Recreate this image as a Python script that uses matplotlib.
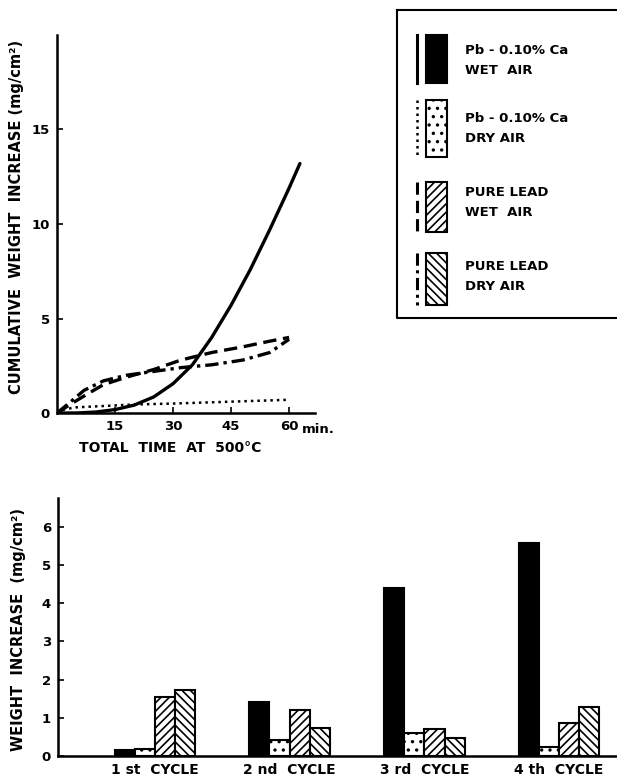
import matplotlib
matplotlib.use("Agg")
import matplotlib.pyplot as plt
from matplotlib.patches import Rectangle
import numpy as np

# ---------------- data ----------------
# Top chart: cumulative weight increase vs time (min)
t_ca_wet = [0, 5, 10, 15, 20, 25, 30, 35, 40, 45, 50, 55, 60, 62.8]
w_ca_wet = [0, 0.0, 0.05, 0.18, 0.42, 0.85, 1.55, 2.55, 4.0, 5.7, 7.6, 9.7, 11.9, 13.2]

t_ca_dry = [0, 2, 5, 10, 20, 30, 45, 60]
w_ca_dry = [0, 0.2, 0.3, 0.35, 0.45, 0.5, 0.6, 0.7]

t_pb_wet = [0, 3, 7, 12, 18, 25, 32, 40, 48, 55, 60]
w_pb_wet = [0, 0.4, 0.9, 1.5, 1.9, 2.3, 2.8, 3.2, 3.5, 3.8, 4.0]

t_pb_dry = [0, 3, 7, 12, 18, 25, 32, 40, 48, 55, 60]
w_pb_dry = [0, 0.5, 1.2, 1.7, 2.0, 2.2, 2.4, 2.55, 2.8, 3.2, 3.9]

top_xticks = [15, 30, 45, 60]
top_yticks = [0, 5, 10, 15]

# Bottom chart: weight increase per cycle
cycles = ["1 st  CYCLE", "2 nd  CYCLE", "3 rd  CYCLE", "4 th  CYCLE"]
bar_ca_wet = [0.17, 1.4, 4.4, 5.58]
bar_ca_dry = [0.18, 0.42, 0.61, 0.24]
bar_pb_wet = [1.55, 1.2, 0.7, 0.86]
bar_pb_dry = [1.73, 0.73, 0.46, 1.29]
bot_yticks = [0, 1, 2, 3, 4, 5, 6]

legend_line1 = ["Pb - 0.10% Ca", "Pb - 0.10% Ca", "PURE LEAD", "PURE LEAD"]
legend_line2 = ["WET  AIR", "DRY AIR", "WET  AIR", "DRY AIR"]

# ---------------- figure ----------------
W, H = 617, 780
fig = plt.figure(figsize=(W / 100, H / 100), dpi=100)
FONT = "DejaVu Sans"
plt.rcParams['font.family'] = [FONT]
plt.rcParams['hatch.linewidth'] = 1.2

def px_axes(l, t, r, b):
    return [l / W, 1 - b / H, (r - l) / W, (b - t) / H]

# ---- top chart ----
ax = fig.add_axes(px_axes(57, 35, 315, 413))
lw = 2.4
ax.plot(t_ca_wet, w_ca_wet, color="black", lw=lw, solid_capstyle="round",
        solid_joinstyle="round")
ax.plot(t_ca_dry, w_ca_dry, color="black", lw=1.8, linestyle=(0, (1, 1.6)))
ax.plot(t_pb_wet, w_pb_wet, color="black", lw=lw, linestyle=(0, (4, 2)))
ax.plot(t_pb_dry, w_pb_dry, color="black", lw=lw, linestyle=(0, (4, 1.5, 1, 1.5)))
ax.set_xlim(0, 66.7)
ax.set_ylim(0, 20)
ax.spines["top"].set_visible(False)
ax.spines["right"].set_visible(False)
for s in ("left", "bottom"):
    ax.spines[s].set_linewidth(1.8)
ax.set_xticks(top_xticks)
ax.set_yticks(top_yticks)
ax.set_xticklabels([str(v) for v in top_xticks], fontsize=9.5, fontweight="bold")
ax.set_yticklabels([str(v) for v in top_yticks], fontsize=9.5, fontweight="bold")
ax.tick_params(direction="in", length=4, width=1.2, pad=5)
ax.text(63.3, -0.55, "min.", fontsize=9.5, fontweight="bold", va="top", ha="left",
        transform=ax.transData, clip_on=False)
ax.set_xlabel("TOTAL  TIME  AT  500°C", fontsize=10, fontweight="bold")
ax.xaxis.set_label_coords(0.44, -0.075)
ax.set_ylabel("CUMULATIVE  WEIGHT  INCREASE (mg/cm²)", fontsize=10.5, fontweight="bold")
ax.yaxis.set_label_coords(-0.128, 0.52)

# ---- bottom chart ----
bx = fig.add_axes(px_axes(58, 498, 617, 756))
x = np.arange(len(cycles))
w = 0.15
kw = dict(width=w, edgecolor="black", linewidth=1.5)
bx.bar(x - 1.5 * w, bar_ca_wet, color="black", **kw)
bx.bar(x - 0.5 * w, bar_ca_dry, color="white", hatch="..", **kw)
bx.bar(x + 0.5 * w, bar_pb_wet, color="white", hatch="////", **kw)
bx.bar(x + 1.5 * w, bar_pb_dry, color="white", hatch="\\\\\\\\", **kw)
bx.set_xlim(-0.72, 3.43)
bx.set_ylim(0, 6.75)
bx.spines["top"].set_visible(False)
bx.spines["right"].set_visible(False)
for s in ("left", "bottom"):
    bx.spines[s].set_linewidth(1.8)
bx.set_yticks(bot_yticks)
bx.set_yticklabels([str(v) for v in bot_yticks], fontsize=9.5, fontweight="bold")
bx.set_xticks(x)
bx.set_xticklabels(cycles, fontsize=10, fontweight="bold")
bx.tick_params(axis="y", direction="in", length=4, width=1.2, pad=5)
bx.tick_params(axis="x", length=0, pad=5)
bx.set_ylabel("WEIGHT  INCREASE  (mg/cm²)", fontsize=10.5, fontweight="bold")
bx.yaxis.set_label_coords(-0.057, 0.49)

# ---- legend box ----
lx = fig.add_axes(px_axes(397, 10, 617, 318))
lx.set_xlim(0, 220)
lx.set_ylim(308, 0)
lx.axis("off")
lx.plot([0, 0, 222], [0, 308, 308], color="black", lw=1.5, clip_on=False)
lx.plot([0, 222], [0, 0], color="black", lw=1.5, clip_on=False)

entries = [
    dict(ys=(25, 73), face="black", hatch=None, ls="-", t1=40, t2=60),
    dict(ys=(90, 147), face="white", hatch="..", ls=(0, (1, 1.6)), t1=108, t2=128),
    dict(ys=(172, 222), face="white", hatch="////", ls=(0, (4, 2)), t1=183, t2=203),
    dict(ys=(243, 295), face="white", hatch="\\\\\\\\", ls=(0, (4, 1.5, 1, 1.5)), t1=257, t2=277),
]
for i, e in enumerate(entries):
    y0, y1 = e["ys"]
    lx.plot([20, 20], [y0, y1], color="black", lw=2.2 if i != 1 else 1.8, linestyle=e["ls"])
    lx.add_patch(Rectangle((29, y0), 21, y1 - y0, facecolor=e["face"], edgecolor="black",
                           linewidth=1.5, hatch=e["hatch"]))
    lx.text(68, e["t1"], legend_line1[i], fontsize=9.5, fontweight="bold", va="center", ha="left")
    lx.text(68, e["t2"], legend_line2[i], fontsize=9.5, fontweight="bold", va="center", ha="left")

fig.savefig("out.png", dpi=100)
